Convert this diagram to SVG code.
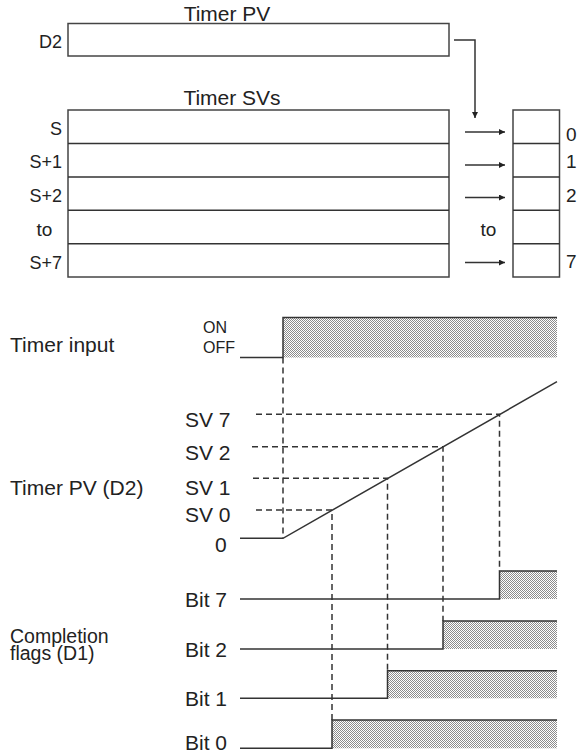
<svg xmlns="http://www.w3.org/2000/svg" width="577" height="754" viewBox="0 0 577 754">
<defs>
<pattern id="dots" width="2" height="2" patternUnits="userSpaceOnUse">
<rect width="2" height="2" fill="#ffffff"/>
<rect x="0" y="0" width="1" height="1" fill="#8c8c8c"/>
<rect x="1" y="1" width="1" height="1" fill="#8c8c8c"/>
</pattern>
<marker id="ah" viewBox="0 0 10 10" refX="10" refY="5" markerWidth="9" markerHeight="6" markerUnits="userSpaceOnUse" orient="auto">
<path d="M0,0 L10,5 L0,10 Z" fill="#222"/>
</marker>
</defs>
<style>
text{font-family:"Liberation Sans",Arial,sans-serif;fill:#222}
.big{font-size:21px}
.two{font-size:19.5px}
.lab{font-size:18px}
.num{font-size:19px}
.sm{font-size:16px}
.box{fill:#fff;stroke:#444;stroke-width:1.5}
.ln{fill:none;stroke:#333;stroke-width:1.5}
.dash{fill:none;stroke:#333;stroke-width:1.5;stroke-dasharray:6 4}
.shade{fill:url(#dots)}
</style>
<rect width="577" height="754" fill="#fff"/>

<g id="timer-pv">
<text class="big" x="227" y="21" text-anchor="middle">Timer PV</text>
<rect class="box" x="68" y="23.5" width="381" height="32.5"/>
<text class="lab" x="62" y="48" text-anchor="end">D2</text>
</g>

<g id="timer-svs">
<text class="big" x="232" y="105" text-anchor="middle">Timer SVs</text>
<rect class="box" x="68" y="110" width="381" height="167"/>
<path class="ln" d="M68,143.5H449M68,177H449M68,210.3H449M68,243.7H449"/>
<text class="lab" x="62" y="135" text-anchor="end">S</text>
<text class="lab" x="62" y="168" text-anchor="end">S+1</text>
<text class="lab" x="62" y="202" text-anchor="end">S+2</text>
<text class="num" x="44.5" y="236" text-anchor="middle">to</text>
<text class="lab" x="62" y="269" text-anchor="end">S+7</text>
</g>

<g id="compare-table">
<rect class="box" x="513" y="110" width="46.5" height="167"/>
<path class="ln" d="M513,143.5H559.5M513,177H559.5M513,210.3H559.5M513,243.7H559.5"/>
<text class="num" x="566" y="141">0</text>
<text class="num" x="566" y="168">1</text>
<text class="num" x="566" y="202">2</text>
<text class="num" x="566" y="268">7</text>
<text class="num" x="488.5" y="236" text-anchor="middle">to</text>
</g>

<g id="connectors">
<path class="ln" d="M454,40H475V118" marker-end="url(#ah)"/>
<path class="ln" d="M465,132H505" marker-end="url(#ah)"/>
<path class="ln" d="M465,165H505" marker-end="url(#ah)"/>
<path class="ln" d="M465,197.5H505" marker-end="url(#ah)"/>
<path class="ln" d="M465,262.5H505" marker-end="url(#ah)"/>
</g>

<g id="timer-input">
<text class="big" x="10" y="352">Timer input</text>
<text class="sm" x="203" y="333">ON</text>
<text class="sm" x="203" y="353">OFF</text>
<rect class="shade" x="283" y="317.5" width="274" height="40"/>
<path class="ln" d="M240,357.5H283V317.5H557"/>
</g>

<g id="timer-pv-graph">
<text class="big" x="10" y="495">Timer PV (D2)</text>
<text class="big" x="185" y="427">SV 7</text>
<text class="big" x="185" y="460">SV 2</text>
<text class="big" x="185" y="495">SV 1</text>
<text class="big" x="185" y="521.5">SV 0</text>
<text class="big" x="215" y="552">0</text>
<path class="ln" d="M240,538.3H283L557,381.7"/>
<path class="dash" d="M283,357.5V538"/>
<path class="dash" d="M256,414.3H499.5V571"/>
<path class="dash" d="M252,446.7H443V621"/>
<path class="dash" d="M253,478.3H387.5V670.7"/>
<path class="dash" d="M256,510H332V720"/>
</g>

<g id="completion-flags">
<text class="two" x="10" y="643"><tspan x="10">Completion</tspan><tspan x="10" dy="17">flags (D1)</tspan></text>
<text class="big" x="185" y="606.5">Bit 7</text>
<text class="big" x="185" y="656.5">Bit 2</text>
<text class="big" x="185" y="706">Bit 1</text>
<text class="big" x="185" y="750">Bit 0</text>
<rect class="shade" x="499.5" y="571" width="57.5" height="28"/>
<rect class="shade" x="443" y="621" width="114" height="28"/>
<rect class="shade" x="387.5" y="670.7" width="169.5" height="27.6"/>
<rect class="shade" x="332" y="720" width="225" height="28.3"/>
<path class="ln" d="M240,599H499.5V571H557"/>
<path class="ln" d="M240,649H443V621H557"/>
<path class="ln" d="M240,698.3H387.5V670.7H557"/>
<path class="ln" d="M240,748.3H332V720H557"/>
</g>
</svg>
